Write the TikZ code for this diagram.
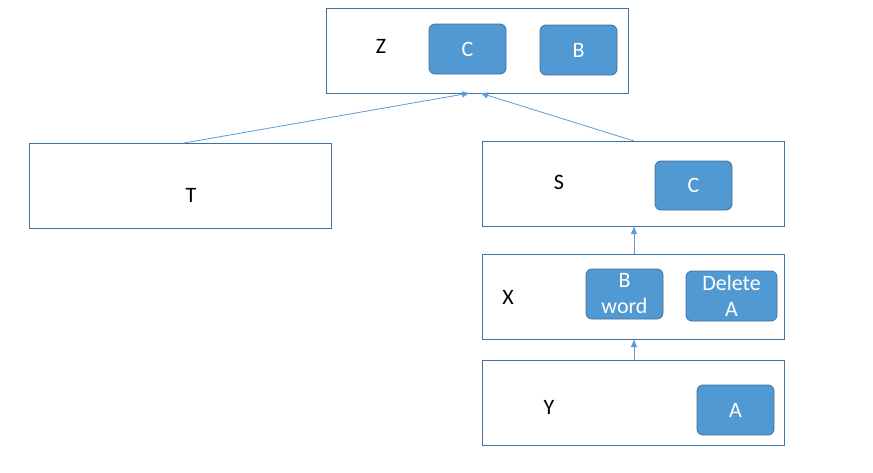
\documentclass[tikz,border=0pt]{standalone}
\usepackage{fontspec}
\setmainfont{Carlito}
\usetikzlibrary{arrows.meta}
\definecolor{frame}{HTML}{41719C}
\definecolor{fillb}{HTML}{5199D2}
\definecolor{arr}{HTML}{5B9BD5}
\begin{document}
\begin{tikzpicture}[x=1pt,y=-1pt,
  outer/.style={draw=frame,line width=1pt,fill=white},
  chip/.style={draw=frame,fill=fillb,rounded corners=6pt,line width=0.8pt,text=white,align=center,inner sep=0pt},
  lbl/.style={},
  conn/.style={draw=arr,line width=0.8pt,-{Latex[length=8pt,width=6.5pt]}}]
\useasboundingbox (0,0) rectangle (873,472);
\tikzset{every node/.append style={font=\fontsize{22}{26}\selectfont}}
% boxes
\draw[outer] (326,8) rectangle (628,93);
\node[lbl] (zl) at (381,46) {Z};
\node[chip,minimum width=77pt,minimum height=50pt] (zc) at (467.5,49) {C};
\node[chip,minimum width=77pt,minimum height=50pt] (zb) at (578.5,50) {B};
\coordinate (ztipl) at (470,93);
\coordinate (ztipr) at (480,93);

\draw[outer] (29,143) rectangle (331,228);
\node[lbl] (tl) at (191,195) {T};
\coordinate (ttop) at (184,143);

\draw[outer] (482,141) rectangle (784,226);
\node[lbl] (sl) at (559,182) {S};
\node[chip,minimum width=77pt,minimum height=49pt] (sc) at (693.5,185.5) {C};
\coordinate (stop) at (634,141);
\coordinate (sbot) at (634,226);

\draw[outer] (482,254) rectangle (784,339);
\node[lbl] (xl) at (508,297) {X};
\node[chip,minimum width=77pt,minimum height=50pt] (xb) at (624.5,294) {B\\word};
\node[chip,minimum width=91pt,minimum height=50pt] (xd) at (731.5,296) {Delete\\A};
\coordinate (xtop) at (634,254);
\coordinate (xbot) at (634,339);

\draw[outer] (482,360) rectangle (784,445);
\node[lbl] (yl) at (549,407) {Y};
\node[chip,minimum width=77pt,minimum height=50pt] (ya) at (735.5,410) {A};
\coordinate (ytop) at (634,360);

% connectors
\draw[conn] (ttop) -- (ztipl);
\draw[conn] (stop) -- (ztipr);
\draw[conn] (xtop) -- (sbot);
\draw[conn] (ytop) -- (xbot);
\end{tikzpicture}
\end{document}
